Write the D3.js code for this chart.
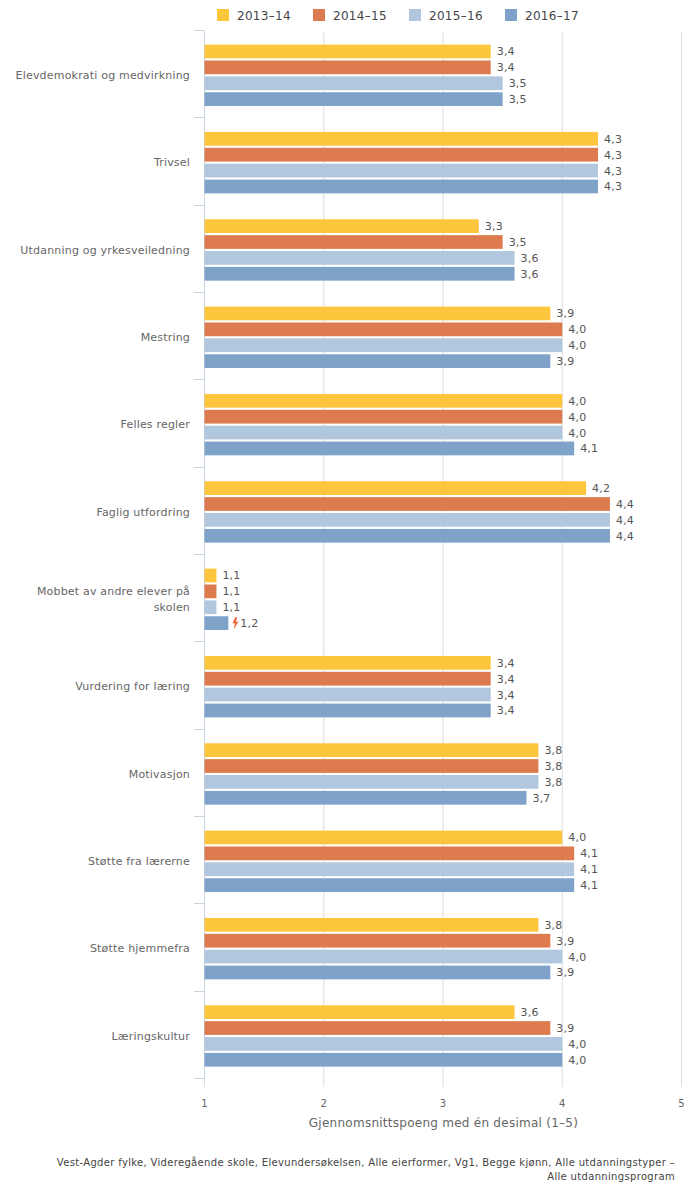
<!DOCTYPE html>
<html><head><meta charset="utf-8">
<script src="https://cdnjs.cloudflare.com/ajax/libs/d3/7.8.5/d3.min.js"></script>
<style>html,body{margin:0;padding:0;background:#fff}svg{display:block}text{font-family:"DejaVu Sans",sans-serif}</style>
</head><body><svg id="c" width="700" height="1191"></svg>
<script>
const categories=[["Elevdemokrati og medvirkning"],["Trivsel"],["Utdanning og yrkesveiledning"],["Mestring"],["Felles regler"],["Faglig utfordring"],["Mobbet av andre elever på","skolen"],["Vurdering for læring"],["Motivasjon"],["Støtte fra lærerne"],["Støtte hjemmefra"],["Læringskultur"]];
const seriesNames=["2013–14","2014–15","2015–16","2016–17"];
const colors=["#fec63d","#dd7b4f","#b0c7de","#7fa3c8"];
const s1=[3.4,4.3,3.3,3.9,4.0,4.2,1.1,3.4,3.8,4.0,3.8,3.6];
const s2=[3.4,4.3,3.5,4.0,4.0,4.4,1.1,3.4,3.8,4.1,3.9,3.9];
const s3=[3.5,4.3,3.6,4.0,4.0,4.4,1.1,3.4,3.8,4.1,4.0,4.0];
const s4=[3.5,4.3,3.6,3.9,4.1,4.4,1.2,3.4,3.7,4.1,3.9,4.0];
const series=[s1,s2,s3,s4];
const xTicks=[1,2,3,4,5];
const fmt=v=>v.toFixed(1).replace(".",",");
const svg=d3.select("#c");
const x=d3.scaleLinear().domain([1,5]).range([204.5,681.5]);
const y=d3.scaleBand().domain(d3.range(12)).range([31,1079]);
const inner=d3.scaleBand().domain(d3.range(4)).range([13.6,75]).paddingInner(0.135).paddingOuter(0);
svg.selectAll(".g").data(xTicks).join("line").attr("x1",d=>x(d)).attr("x2",d=>x(d)).attr("y1",32).attr("y2",1087).attr("stroke","#dcdcdc");
svg.append("line").attr("x1",204.5).attr("x2",204.5).attr("y1",31).attr("y2",1079).attr("stroke","#c8d3e2");
svg.selectAll(".t").data(d3.range(13)).join("line").attr("x1",194).attr("x2",204).attr("y1",d=>Math.round(d===12?1079:y(d))-.5).attr("y2",d=>Math.round(d===12?1079:y(d))-.5).attr("stroke","#c8d3e2");
const gs=svg.selectAll(".grp").data(categories).join("g").attr("transform",(d,i)=>`translate(0,${y(i)})`);
gs.each(function(cat,i){
  const g=d3.select(this);
  series.forEach((s,k)=>{
    g.append("rect").attr("x",x(1)).attr("y",inner(k)).attr("width",x(s[i])-x(1)).attr("height",inner.bandwidth()).attr("fill",colors[k]);
    const flag=s[i]===1.2;
    g.append("text").attr("x",x(s[i])+(flag?12:6)).attr("y",inner(k)+inner.bandwidth()/2+4).attr("font-size",11).attr("letter-spacing",.2).attr("fill","#555").text(fmt(s[i]));
    if(flag){const bx=x(s[i])+4,by=inner(k)+1;
      g.append("path").attr("d",`M${bx+3} ${by} L${bx} ${by+6} L${bx+2.5} ${by+6} L${bx+1.5} ${by+12} L${bx+6} ${by+4.5} L${bx+3.5} ${by+4.5} L${bx+5} ${by} Z`).attr("fill","#e8663c");}
  });
  const mid=y.bandwidth()/2+4.5;
  cat.forEach((l,j)=>g.append("text").attr("x",190).attr("y",mid+(j-(cat.length-1)/2)*16).attr("text-anchor","end").attr("font-size",11).attr("letter-spacing",.19).attr("fill","#666").text(l));
});
svg.selectAll(".xl").data(xTicks).join("text").attr("x",d=>x(d)).attr("y",1107).attr("text-anchor","middle").attr("font-size",10).attr("fill","#666").text(d=>d);
svg.append("text").attr("x",443.5).attr("y",1127).attr("text-anchor","middle").attr("font-size",12).attr("letter-spacing",.26).attr("fill","#666").text("Gjennomsnittspoeng med én desimal (1–5)");
const lx=[217,313,409,505];
seriesNames.forEach((n,k)=>{
  svg.append("rect").attr("x",lx[k]).attr("y",9).attr("width",12).attr("height",12).attr("fill",colors[k]);
  svg.append("text").attr("x",lx[k]+20).attr("y",20).attr("font-size",12).attr("letter-spacing",.3).attr("fill","#444").text(n);
});
const foot=["Vest-Agder fylke, Videregående skole, Elevundersøkelsen, Alle eierformer, Vg1, Begge kjønn, Alle utdanningstyper –","Alle utdanningsprogram"];
foot.forEach((l,i)=>svg.append("text").attr("x",675).attr("y",1166+i*14).attr("text-anchor","end").attr("font-size",10).attr("letter-spacing",.33).attr("fill","#444").text(l));
</script></body></html>
